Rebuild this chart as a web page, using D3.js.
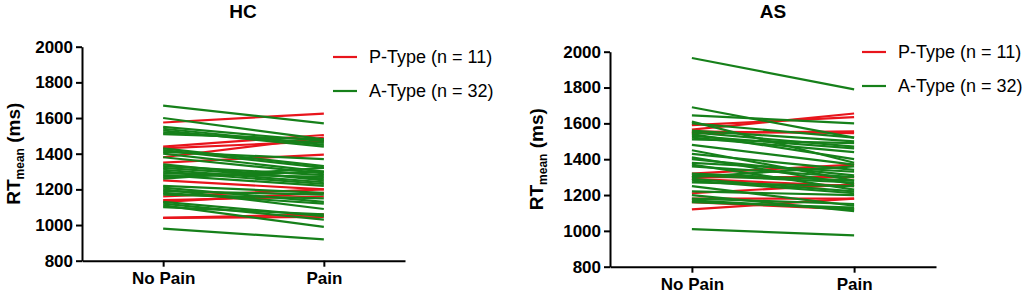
<!DOCTYPE html>
<html>
<head>
    <script src="https://cdn.jsdelivr.net/npm/d3@7"></script>
    <style>
        body { margin: 0; background: #fff; }
        text { font-family: "Liberation Sans", Arial, sans-serif; }
    </style>
</head>
<body>
<div id="chart"></div>
<script>

    var conditions = ['No Pain', 'Pain'];
    var yTicks = [800, 1000, 1200, 1400, 1600, 1800, 2000];
    var legendLabels = ['P-Type (n = 11)', 'A-Type (n = 32)'];

    // HC group
    var hcPNoPain = [1575, 1440, 1430, 1380, 1350, 1250, 1160, 1140, 1130, 1040, 1040];
    var hcPPain   = [1625, 1505, 1470, 1490, 1395, 1200, 1200, 1160, 1180, 1060, 1045];
    var hcANoPain = [1670, 1600, 1550, 1540, 1530, 1520, 1510, 1430, 1420, 1410, 1400, 1380, 1340, 1330, 1320, 1310,
                     1300, 1290, 1280, 1270, 1260, 1220, 1210, 1200, 1190, 1180, 1170, 1130, 1120, 1110, 1100, 980];
    var hcAPain   = [1570, 1480, 1470, 1450, 1440, 1460, 1480, 1330, 1320, 1370, 1300, 1290, 1250, 1280, 1260, 1240,
                     1230, 1270, 1220, 1300, 1320, 1180, 1130, 1090, 1170, 1120, 1150, 1050, 1030, 990, 1060, 920];

    // AS group
    var asPNoPain = [1565, 1590, 1555, 1545, 1320, 1300, 1290, 1210, 1180, 1160, 1120];
    var asPPain   = [1655, 1635, 1545, 1555, 1370, 1300, 1250, 1260, 1180, 1120, 1180];
    var asANoPain = [1965, 1690, 1645, 1610, 1600, 1560, 1550, 1540, 1530, 1520, 1510, 1480, 1450, 1430, 1410, 1400,
                     1380, 1370, 1360, 1320, 1310, 1300, 1290, 1280, 1270, 1250, 1220, 1200, 1180, 1170, 1160, 1010];
    var asAPain   = [1790, 1520, 1600, 1380, 1520, 1500, 1470, 1400, 1460, 1440, 1490, 1370, 1280, 1340, 1260, 1310,
                     1330, 1230, 1300, 1280, 1270, 1360, 1220, 1210, 1250, 1140, 1200, 1110, 1150, 1120, 1130, 975];

    var red = '#e8151c';
    var green = '#16801a';

    var width = 1029, height = 294;

    var svg = d3.select('#chart').append('svg')
        .attr('width', width)
        .attr('height', height);

    var panels = [
        { title: 'HC', left: 82, right: 405, top: 46.7, bottom: 260.7, titleX: 243, legendX: 333, legendY: 57, labelX: 20,
          pNo: hcPNoPain, pYes: hcPPain, aNo: hcANoPain, aYes: hcAPain },
        { title: 'AS', left: 610, right: 936, top: 51.7, bottom: 266.7, titleX: 773, legendX: 862, legendY: 52, labelX: 543,
          pNo: asPNoPain, pYes: asPPain, aNo: asANoPain, aYes: asAPain }
    ];

    panels.forEach(function(p) {
        var x = d3.scalePoint()
            .domain(conditions)
            .range([p.left, p.right])
            .padding(0.505);

        var y = d3.scaleLinear()
            .domain([800, 2000])
            .range([p.bottom, p.top]);

        var g = svg.append('g');

        function pairs(a, b) {
            return a.map(function(v, i) { return [v, b[i]]; });
        }

        var line = d3.line()
            .x(function(d, i) { return x(conditions[i]); })
            .y(function(d) { return y(d); });

        g.selectAll('path.p')
            .data(pairs(p.pNo, p.pYes))
            .enter().append('path')
            .attr('class', 'p')
            .attr('d', line)
            .attr('fill', 'none')
            .attr('stroke', red)
            .attr('stroke-width', 2.2);

        g.selectAll('path.a')
            .data(pairs(p.aNo, p.aYes))
            .enter().append('path')
            .attr('class', 'a')
            .attr('d', line)
            .attr('fill', 'none')
            .attr('stroke', green)
            .attr('stroke-width', 2.2);

        // axes
        var yAxis = d3.axisLeft(y).tickValues(yTicks).tickFormat(d3.format('d'))
            .tickSize(6).tickPadding(3).tickSizeOuter(0);
        var yg = g.append('g')
            .attr('transform', 'translate(' + p.left + ',0)')
            .call(yAxis);

        var xAxis = d3.axisBottom(x).tickSize(6).tickPadding(5).tickSizeOuter(0);
        var xg = g.append('g')
            .attr('transform', 'translate(0,' + p.bottom + ')')
            .call(xAxis);

        [yg, xg].forEach(function(ax) {
            ax.selectAll('path, line').attr('stroke', '#000').attr('stroke-width', 2);
            ax.selectAll('text')
                .attr('fill', '#000')
                .style('font-size', '17px')
                .style('font-weight', 'bold');
        });

        // y label
        var lab = g.append('text')
            .attr('transform', 'translate(' + p.labelX + ',' + ((p.top + p.bottom) / 2) + ') rotate(-90)')
            .attr('text-anchor', 'middle')
            .style('font-size', '19px')
            .style('font-weight', 'bold');
        lab.append('tspan').text('RT');
        lab.append('tspan').attr('dy', 4).style('font-size', '12px').text('mean');
        lab.append('tspan').attr('dy', -4).text(' (ms)');

        // title
        g.append('text')
            .attr('x', p.titleX)
            .attr('y', 18)
            .attr('text-anchor', 'middle')
            .style('font-size', '19px')
            .style('font-weight', 'bold')
            .text(p.title);

        // legend
        var leg = g.selectAll('g.leg')
            .data(legendLabels)
            .enter().append('g')
            .attr('class', 'leg')
            .attr('transform', function(d, i) { return 'translate(' + p.legendX + ',' + (p.legendY + i * 34) + ')'; });

        leg.append('line')
            .attr('x1', 0).attr('x2', 24)
            .attr('stroke', function(d, i) { return i === 0 ? red : green; })
            .attr('stroke-width', 2.2);

        leg.append('text')
            .attr('x', 36)
            .attr('y', 6)
            .style('font-size', '18px')
            .attr('fill', '#000')
            .text(function(d) { return d; });
    });

</script>
</body>
</html>
